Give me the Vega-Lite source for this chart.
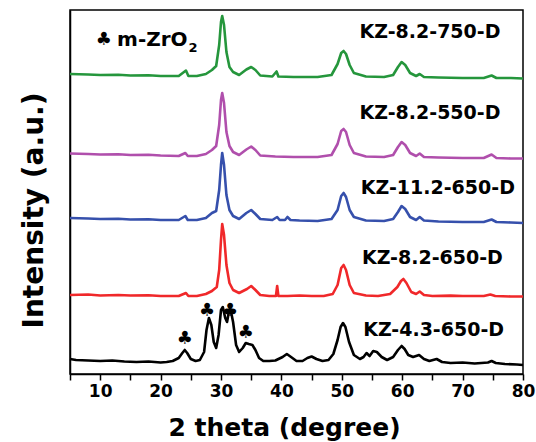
{
  "$schema": "https://vega.github.io/schema/vega-lite/v6.json",
  "autosize": "none",
  "width": 453,
  "height": 364,
  "padding": {"left": 70, "top": 10, "right": 13, "bottom": 68},
  "background": "white",
  "config": {
    "view": {"stroke": "black", "strokeWidth": 1.5},
    "font": "DejaVu Sans"
  },
  "datasets": {
    "xrd": [
      {"s":"KZ-4.3-650-D","t":5,"i":15},{"s":"KZ-4.3-650-D","t":6,"i":14},{"s":"KZ-4.3-650-D","t":8,"i":13.5},{"s":"KZ-4.3-650-D","t":10,"i":13},{"s":"KZ-4.3-650-D","t":12,"i":13.5},{"s":"KZ-4.3-650-D","t":14,"i":12.5},{"s":"KZ-4.3-650-D","t":16,"i":12},{"s":"KZ-4.3-650-D","t":18,"i":12.5},{"s":"KZ-4.3-650-D","t":20,"i":11.5},{"s":"KZ-4.3-650-D","t":21,"i":12},{"s":"KZ-4.3-650-D","t":22,"i":13},{"s":"KZ-4.3-650-D","t":23,"i":16},{"s":"KZ-4.3-650-D","t":23.6,"i":21},{"s":"KZ-4.3-650-D","t":24,"i":24},{"s":"KZ-4.3-650-D","t":24.4,"i":21},{"s":"KZ-4.3-650-D","t":25,"i":15},{"s":"KZ-4.3-650-D","t":25.8,"i":13},{"s":"KZ-4.3-650-D","t":26.5,"i":14},{"s":"KZ-4.3-650-D","t":27.2,"i":22},{"s":"KZ-4.3-650-D","t":27.6,"i":44},{"s":"KZ-4.3-650-D","t":28,"i":56},{"s":"KZ-4.3-650-D","t":28.4,"i":49},{"s":"KZ-4.3-650-D","t":28.8,"i":32},{"s":"KZ-4.3-650-D","t":29.2,"i":26},{"s":"KZ-4.3-650-D","t":29.6,"i":39},{"s":"KZ-4.3-650-D","t":30,"i":64},{"s":"KZ-4.3-650-D","t":30.3,"i":67},{"s":"KZ-4.3-650-D","t":30.7,"i":56},{"s":"KZ-4.3-650-D","t":31,"i":52},{"s":"KZ-4.3-650-D","t":31.3,"i":62},{"s":"KZ-4.3-650-D","t":31.6,"i":64},{"s":"KZ-4.3-650-D","t":32,"i":52},{"s":"KZ-4.3-650-D","t":32.5,"i":29},{"s":"KZ-4.3-650-D","t":33,"i":22},{"s":"KZ-4.3-650-D","t":33.6,"i":26},{"s":"KZ-4.3-650-D","t":34.1,"i":31},{"s":"KZ-4.3-650-D","t":34.6,"i":30},{"s":"KZ-4.3-650-D","t":35.2,"i":29},{"s":"KZ-4.3-650-D","t":35.7,"i":24},{"s":"KZ-4.3-650-D","t":36.3,"i":16},{"s":"KZ-4.3-650-D","t":37,"i":13},{"s":"KZ-4.3-650-D","t":38,"i":13},{"s":"KZ-4.3-650-D","t":39,"i":13.5},{"s":"KZ-4.3-650-D","t":40.2,"i":17},{"s":"KZ-4.3-650-D","t":40.9,"i":20},{"s":"KZ-4.3-650-D","t":41.6,"i":17},{"s":"KZ-4.3-650-D","t":42.5,"i":13},{"s":"KZ-4.3-650-D","t":43.5,"i":13},{"s":"KZ-4.3-650-D","t":44.3,"i":16},{"s":"KZ-4.3-650-D","t":45,"i":17.5},{"s":"KZ-4.3-650-D","t":45.8,"i":15},{"s":"KZ-4.3-650-D","t":46.8,"i":13},{"s":"KZ-4.3-650-D","t":47.8,"i":14},{"s":"KZ-4.3-650-D","t":48.6,"i":20},{"s":"KZ-4.3-650-D","t":49.3,"i":34},{"s":"KZ-4.3-650-D","t":49.8,"i":47},{"s":"KZ-4.3-650-D","t":50.2,"i":51},{"s":"KZ-4.3-650-D","t":50.6,"i":47},{"s":"KZ-4.3-650-D","t":51.2,"i":32},{"s":"KZ-4.3-650-D","t":52,"i":19},{"s":"KZ-4.3-650-D","t":53,"i":15},{"s":"KZ-4.3-650-D","t":53.6,"i":17},{"s":"KZ-4.3-650-D","t":54.1,"i":21},{"s":"KZ-4.3-650-D","t":54.6,"i":18},{"s":"KZ-4.3-650-D","t":55.2,"i":23},{"s":"KZ-4.3-650-D","t":55.8,"i":22},{"s":"KZ-4.3-650-D","t":56.6,"i":17},{"s":"KZ-4.3-650-D","t":57.5,"i":14},{"s":"KZ-4.3-650-D","t":58.5,"i":17},{"s":"KZ-4.3-650-D","t":59.3,"i":24},{"s":"KZ-4.3-650-D","t":59.9,"i":28},{"s":"KZ-4.3-650-D","t":60.4,"i":25},{"s":"KZ-4.3-650-D","t":61,"i":19},{"s":"KZ-4.3-650-D","t":61.8,"i":17},{"s":"KZ-4.3-650-D","t":62.8,"i":19},{"s":"KZ-4.3-650-D","t":63.6,"i":15},{"s":"KZ-4.3-650-D","t":64.5,"i":13},{"s":"KZ-4.3-650-D","t":65.7,"i":15},{"s":"KZ-4.3-650-D","t":66.6,"i":12},{"s":"KZ-4.3-650-D","t":68,"i":11},{"s":"KZ-4.3-650-D","t":70,"i":11.5},{"s":"KZ-4.3-650-D","t":72,"i":10.5},{"s":"KZ-4.3-650-D","t":74.2,"i":11.5},{"s":"KZ-4.3-650-D","t":74.8,"i":13},{"s":"KZ-4.3-650-D","t":75.5,"i":11},{"s":"KZ-4.3-650-D","t":77,"i":10},{"s":"KZ-4.3-650-D","t":79,"i":9.5},{"s":"KZ-4.3-650-D","t":80,"i":9},

      {"s":"KZ-8.2-650-D","t":5,"i":79},{"s":"KZ-8.2-650-D","t":8,"i":79.5},{"s":"KZ-8.2-650-D","t":10,"i":78.5},{"s":"KZ-8.2-650-D","t":13,"i":79},{"s":"KZ-8.2-650-D","t":15,"i":78.5},{"s":"KZ-8.2-650-D","t":18,"i":78.8},{"s":"KZ-8.2-650-D","t":20,"i":78},{"s":"KZ-8.2-650-D","t":23,"i":78},{"s":"KZ-8.2-650-D","t":24.2,"i":81},{"s":"KZ-8.2-650-D","t":24.6,"i":78},{"s":"KZ-8.2-650-D","t":26,"i":78},{"s":"KZ-8.2-650-D","t":27.5,"i":80},{"s":"KZ-8.2-650-D","t":28.5,"i":83},{"s":"KZ-8.2-650-D","t":29.3,"i":87},{"s":"KZ-8.2-650-D","t":29.7,"i":104},{"s":"KZ-8.2-650-D","t":30,"i":134},{"s":"KZ-8.2-650-D","t":30.2,"i":150},{"s":"KZ-8.2-650-D","t":30.5,"i":139},{"s":"KZ-8.2-650-D","t":30.9,"i":109},{"s":"KZ-8.2-650-D","t":31.4,"i":91},{"s":"KZ-8.2-650-D","t":32,"i":84},{"s":"KZ-8.2-650-D","t":33,"i":81},{"s":"KZ-8.2-650-D","t":34.3,"i":85},{"s":"KZ-8.2-650-D","t":35,"i":88},{"s":"KZ-8.2-650-D","t":35.7,"i":84},{"s":"KZ-8.2-650-D","t":36.5,"i":79},{"s":"KZ-8.2-650-D","t":38,"i":78},{"s":"KZ-8.2-650-D","t":39.1,"i":78},{"s":"KZ-8.2-650-D","t":39.3,"i":88},{"s":"KZ-8.2-650-D","t":39.5,"i":78},{"s":"KZ-8.2-650-D","t":41,"i":78},{"s":"KZ-8.2-650-D","t":43,"i":78.5},{"s":"KZ-8.2-650-D","t":45,"i":78},{"s":"KZ-8.2-650-D","t":47,"i":78},{"s":"KZ-8.2-650-D","t":48.5,"i":80},{"s":"KZ-8.2-650-D","t":49.3,"i":89},{"s":"KZ-8.2-650-D","t":49.9,"i":106},{"s":"KZ-8.2-650-D","t":50.3,"i":109},{"s":"KZ-8.2-650-D","t":50.7,"i":104},{"s":"KZ-8.2-650-D","t":51.3,"i":89},{"s":"KZ-8.2-650-D","t":52,"i":81},{"s":"KZ-8.2-650-D","t":54,"i":78.5},{"s":"KZ-8.2-650-D","t":56,"i":78},{"s":"KZ-8.2-650-D","t":58,"i":80},{"s":"KZ-8.2-650-D","t":59.2,"i":87},{"s":"KZ-8.2-650-D","t":59.8,"i":93},{"s":"KZ-8.2-650-D","t":60.2,"i":95},{"s":"KZ-8.2-650-D","t":60.7,"i":91},{"s":"KZ-8.2-650-D","t":61.5,"i":82},{"s":"KZ-8.2-650-D","t":62.3,"i":80},{"s":"KZ-8.2-650-D","t":62.9,"i":82.5},{"s":"KZ-8.2-650-D","t":63.6,"i":79},{"s":"KZ-8.2-650-D","t":65,"i":78},{"s":"KZ-8.2-650-D","t":68,"i":78.4},{"s":"KZ-8.2-650-D","t":70,"i":78},{"s":"KZ-8.2-650-D","t":73.5,"i":78},{"s":"KZ-8.2-650-D","t":74.6,"i":79.5},{"s":"KZ-8.2-650-D","t":75.4,"i":78},{"s":"KZ-8.2-650-D","t":78,"i":77.5},{"s":"KZ-8.2-650-D","t":80,"i":77.5},

      {"s":"KZ-11.2-650-D","t":5,"i":156},{"s":"KZ-11.2-650-D","t":8,"i":155.5},{"s":"KZ-11.2-650-D","t":10,"i":155},{"s":"KZ-11.2-650-D","t":13,"i":155.3},{"s":"KZ-11.2-650-D","t":15,"i":154.5},{"s":"KZ-11.2-650-D","t":18,"i":154.8},{"s":"KZ-11.2-650-D","t":20,"i":154},{"s":"KZ-11.2-650-D","t":23,"i":154},{"s":"KZ-11.2-650-D","t":24.1,"i":158},{"s":"KZ-11.2-650-D","t":24.5,"i":154},{"s":"KZ-11.2-650-D","t":26,"i":154},{"s":"KZ-11.2-650-D","t":27.5,"i":156},{"s":"KZ-11.2-650-D","t":28.5,"i":161},{"s":"KZ-11.2-650-D","t":29.2,"i":163},{"s":"KZ-11.2-650-D","t":29.7,"i":184},{"s":"KZ-11.2-650-D","t":30,"i":209},{"s":"KZ-11.2-650-D","t":30.2,"i":221},{"s":"KZ-11.2-650-D","t":30.5,"i":209},{"s":"KZ-11.2-650-D","t":30.9,"i":179},{"s":"KZ-11.2-650-D","t":31.4,"i":164},{"s":"KZ-11.2-650-D","t":32,"i":158},{"s":"KZ-11.2-650-D","t":33,"i":155},{"s":"KZ-11.2-650-D","t":34.2,"i":161},{"s":"KZ-11.2-650-D","t":35,"i":164},{"s":"KZ-11.2-650-D","t":35.7,"i":160},{"s":"KZ-11.2-650-D","t":36.5,"i":155},{"s":"KZ-11.2-650-D","t":38.5,"i":154},{"s":"KZ-11.2-650-D","t":39.3,"i":157},{"s":"KZ-11.2-650-D","t":39.7,"i":154},{"s":"KZ-11.2-650-D","t":40.6,"i":154},{"s":"KZ-11.2-650-D","t":41,"i":157},{"s":"KZ-11.2-650-D","t":41.5,"i":154},{"s":"KZ-11.2-650-D","t":43,"i":153.5},{"s":"KZ-11.2-650-D","t":46,"i":153},{"s":"KZ-11.2-650-D","t":48.3,"i":155},{"s":"KZ-11.2-650-D","t":49.3,"i":164},{"s":"KZ-11.2-650-D","t":49.9,"i":178},{"s":"KZ-11.2-650-D","t":50.3,"i":181},{"s":"KZ-11.2-650-D","t":50.7,"i":177},{"s":"KZ-11.2-650-D","t":51.3,"i":164},{"s":"KZ-11.2-650-D","t":52,"i":157},{"s":"KZ-11.2-650-D","t":54,"i":153.5},{"s":"KZ-11.2-650-D","t":57,"i":153},{"s":"KZ-11.2-650-D","t":58.5,"i":155},{"s":"KZ-11.2-650-D","t":59.3,"i":162},{"s":"KZ-11.2-650-D","t":59.9,"i":168},{"s":"KZ-11.2-650-D","t":60.5,"i":165},{"s":"KZ-11.2-650-D","t":61.3,"i":157},{"s":"KZ-11.2-650-D","t":62.3,"i":154},{"s":"KZ-11.2-650-D","t":62.9,"i":157},{"s":"KZ-11.2-650-D","t":63.6,"i":153.5},{"s":"KZ-11.2-650-D","t":66,"i":152.5},{"s":"KZ-11.2-650-D","t":70,"i":152},{"s":"KZ-11.2-650-D","t":73.5,"i":152},{"s":"KZ-11.2-650-D","t":74.8,"i":154.5},{"s":"KZ-11.2-650-D","t":75.6,"i":152},{"s":"KZ-11.2-650-D","t":78,"i":151.5},{"s":"KZ-11.2-650-D","t":80,"i":151},

      {"s":"KZ-8.2-550-D","t":5,"i":220.5},{"s":"KZ-8.2-550-D","t":8,"i":220},{"s":"KZ-8.2-550-D","t":10,"i":219.5},{"s":"KZ-8.2-550-D","t":13,"i":219.8},{"s":"KZ-8.2-550-D","t":15,"i":219},{"s":"KZ-8.2-550-D","t":18,"i":219.2},{"s":"KZ-8.2-550-D","t":20,"i":218.5},{"s":"KZ-8.2-550-D","t":23,"i":218},{"s":"KZ-8.2-550-D","t":24.1,"i":221},{"s":"KZ-8.2-550-D","t":24.5,"i":218},{"s":"KZ-8.2-550-D","t":26,"i":218},{"s":"KZ-8.2-550-D","t":27.5,"i":220},{"s":"KZ-8.2-550-D","t":28.5,"i":224},{"s":"KZ-8.2-550-D","t":29.2,"i":228},{"s":"KZ-8.2-550-D","t":29.7,"i":249},{"s":"KZ-8.2-550-D","t":30,"i":274},{"s":"KZ-8.2-550-D","t":30.2,"i":281},{"s":"KZ-8.2-550-D","t":30.5,"i":271},{"s":"KZ-8.2-550-D","t":30.9,"i":242},{"s":"KZ-8.2-550-D","t":31.4,"i":228},{"s":"KZ-8.2-550-D","t":32,"i":222},{"s":"KZ-8.2-550-D","t":33,"i":219},{"s":"KZ-8.2-550-D","t":34.2,"i":224.5},{"s":"KZ-8.2-550-D","t":35,"i":227.5},{"s":"KZ-8.2-550-D","t":35.7,"i":224},{"s":"KZ-8.2-550-D","t":36.5,"i":218.5},{"s":"KZ-8.2-550-D","t":39,"i":217.5},{"s":"KZ-8.2-550-D","t":42,"i":217},{"s":"KZ-8.2-550-D","t":46,"i":217},{"s":"KZ-8.2-550-D","t":48.3,"i":219},{"s":"KZ-8.2-550-D","t":49.3,"i":230},{"s":"KZ-8.2-550-D","t":49.9,"i":243},{"s":"KZ-8.2-550-D","t":50.3,"i":245},{"s":"KZ-8.2-550-D","t":50.7,"i":242},{"s":"KZ-8.2-550-D","t":51.3,"i":229},{"s":"KZ-8.2-550-D","t":52,"i":221},{"s":"KZ-8.2-550-D","t":54,"i":217.5},{"s":"KZ-8.2-550-D","t":57,"i":217},{"s":"KZ-8.2-550-D","t":58.5,"i":219},{"s":"KZ-8.2-550-D","t":59.3,"i":227},{"s":"KZ-8.2-550-D","t":59.9,"i":232},{"s":"KZ-8.2-550-D","t":60.5,"i":229},{"s":"KZ-8.2-550-D","t":61.3,"i":221},{"s":"KZ-8.2-550-D","t":62.3,"i":218},{"s":"KZ-8.2-550-D","t":62.9,"i":220.5},{"s":"KZ-8.2-550-D","t":63.6,"i":217},{"s":"KZ-8.2-550-D","t":66,"i":216.5},{"s":"KZ-8.2-550-D","t":70,"i":216},{"s":"KZ-8.2-550-D","t":73.5,"i":216},{"s":"KZ-8.2-550-D","t":74.8,"i":219.5},{"s":"KZ-8.2-550-D","t":75.6,"i":216},{"s":"KZ-8.2-550-D","t":78,"i":215.5},{"s":"KZ-8.2-550-D","t":80,"i":215.5},

      {"s":"KZ-8.2-750-D","t":5,"i":300},{"s":"KZ-8.2-750-D","t":8,"i":299.5},{"s":"KZ-8.2-750-D","t":10,"i":299},{"s":"KZ-8.2-750-D","t":13,"i":299.3},{"s":"KZ-8.2-750-D","t":15,"i":298.5},{"s":"KZ-8.2-750-D","t":18,"i":298.8},{"s":"KZ-8.2-750-D","t":20,"i":298},{"s":"KZ-8.2-750-D","t":23,"i":298},{"s":"KZ-8.2-750-D","t":24.2,"i":303.5},{"s":"KZ-8.2-750-D","t":24.6,"i":298},{"s":"KZ-8.2-750-D","t":26,"i":298},{"s":"KZ-8.2-750-D","t":27.5,"i":300},{"s":"KZ-8.2-750-D","t":28.5,"i":304},{"s":"KZ-8.2-750-D","t":29.2,"i":308},{"s":"KZ-8.2-750-D","t":29.7,"i":329},{"s":"KZ-8.2-750-D","t":30,"i":352},{"s":"KZ-8.2-750-D","t":30.2,"i":358},{"s":"KZ-8.2-750-D","t":30.5,"i":349},{"s":"KZ-8.2-750-D","t":30.9,"i":322},{"s":"KZ-8.2-750-D","t":31.4,"i":307},{"s":"KZ-8.2-750-D","t":32,"i":302},{"s":"KZ-8.2-750-D","t":33,"i":299},{"s":"KZ-8.2-750-D","t":34.2,"i":304.5},{"s":"KZ-8.2-750-D","t":35,"i":307},{"s":"KZ-8.2-750-D","t":35.7,"i":304},{"s":"KZ-8.2-750-D","t":36.5,"i":298.5},{"s":"KZ-8.2-750-D","t":38.5,"i":297.5},{"s":"KZ-8.2-750-D","t":39.2,"i":302.5},{"s":"KZ-8.2-750-D","t":39.5,"i":297.5},{"s":"KZ-8.2-750-D","t":42,"i":297},{"s":"KZ-8.2-750-D","t":46,"i":297},{"s":"KZ-8.2-750-D","t":48.3,"i":299},{"s":"KZ-8.2-750-D","t":49.3,"i":310},{"s":"KZ-8.2-750-D","t":49.9,"i":321},{"s":"KZ-8.2-750-D","t":50.3,"i":323},{"s":"KZ-8.2-750-D","t":50.7,"i":320},{"s":"KZ-8.2-750-D","t":51.3,"i":309},{"s":"KZ-8.2-750-D","t":52,"i":301},{"s":"KZ-8.2-750-D","t":54,"i":297.5},{"s":"KZ-8.2-750-D","t":57,"i":297},{"s":"KZ-8.2-750-D","t":58.5,"i":299},{"s":"KZ-8.2-750-D","t":59.3,"i":307},{"s":"KZ-8.2-750-D","t":59.9,"i":312},{"s":"KZ-8.2-750-D","t":60.5,"i":309},{"s":"KZ-8.2-750-D","t":61.3,"i":301},{"s":"KZ-8.2-750-D","t":62.3,"i":298},{"s":"KZ-8.2-750-D","t":62.9,"i":300},{"s":"KZ-8.2-750-D","t":63.6,"i":297},{"s":"KZ-8.2-750-D","t":66,"i":296.5},{"s":"KZ-8.2-750-D","t":70,"i":296},{"s":"KZ-8.2-750-D","t":73.5,"i":296},{"s":"KZ-8.2-750-D","t":74.8,"i":298.5},{"s":"KZ-8.2-750-D","t":75.6,"i":296},{"s":"KZ-8.2-750-D","t":78,"i":296},{"s":"KZ-8.2-750-D","t":80,"i":295.5}
    ],
    "labels": [
      {"t":64.6,"i":342,"text":"KZ-8.2-750-D"},
      {"t":64.6,"i":261,"text":"KZ-8.2-550-D"},
      {"t":65.9,"i":186,"text":"KZ-11.2-650-D"},
      {"t":65.0,"i":116,"text":"KZ-8.2-650-D"},
      {"t":65.2,"i":44,"text":"KZ-4.3-650-D"}
    ],
    "stars": [
      {"t":24.0,"i":35},{"t":27.7,"i":63},{"t":31.5,"i":63},{"t":34.1,"i":41},{"t":10.6,"i":334}
    ],
    "legendText": [{"t":12.8,"i":334,"text":"m-ZrO"}],
    "legendSub": [{"t":24.6,"i":326,"text":"2"}]
  },
  "encoding": {
    "x": {
      "field": "t", "type": "quantitative",
      "scale": {"domain": [5, 80], "nice": false, "zero": false},
      "axis": {
        "title": "2 theta (degree)",
        "values": [5,10,15,20,25,30,35,40,45,50,55,60,65,70,75,80],
        "labelExpr": "datum.value % 10 === 0 ? datum.label : ''",
        "grid": false,
        "domainColor": "black", "domainWidth": 1.5,
        "tickColor": "black", "tickWidth": 1.5, "tickSize": 6,
        "labelFont": "DejaVu Sans", "labelFontWeight": "bold", "labelFontSize": 17, "labelColor": "black",
        "labelPadding": 3, "labelFlush": false, "labelOverlap": false,
        "titleFont": "DejaVu Sans", "titleFontWeight": "bold", "titleFontSize": 25, "titleColor": "black",
        "titleX": 214, "titleY": 53, "titleBaseline": "middle"
      }
    },
    "y": {
      "field": "i", "type": "quantitative",
      "scale": {"domain": [0, 364], "nice": false, "zero": false},
      "axis": {
        "title": "Intensity (a.u.)",
        "labels": false, "ticks": false, "grid": false,
        "domainColor": "black", "domainWidth": 1.5,
        "titleFont": "DejaVu Sans", "titleFontWeight": "bold", "titleFontSize": 28, "titleColor": "black",
        "titleX": -36, "titleY": 200, "titleBaseline": "middle", "titleAngle": -90
      }
    }
  },
  "layer": [
    {
      "data": {"name": "xrd"},
      "mark": {"type": "line", "strokeWidth": 2.6, "strokeJoin": "round"},
      "encoding": {
        "color": {
          "field": "s", "type": "nominal",
          "scale": {
            "domain": ["KZ-4.3-650-D","KZ-8.2-650-D","KZ-11.2-650-D","KZ-8.2-550-D","KZ-8.2-750-D"],
            "range": ["#000000","#f0282a","#3650ac","#b04fac","#25963c"]
          },
          "legend": null
        }
      }
    },
    {
      "data": {"name": "labels"},
      "mark": {"type": "text", "font": "DejaVu Sans", "fontWeight": "bold", "fontSize": 19, "color": "black", "align": "center", "baseline": "middle"},
      "encoding": {"text": {"field": "text"}}
    },
    {
      "data": {"name": "stars"},
      "mark": {"type": "text", "font": "DejaVu Sans", "fontSize": 18, "color": "black", "align": "center", "baseline": "middle"},
      "encoding": {"text": {"value": "♣"}}
    },
    {
      "data": {"name": "legendText"},
      "mark": {"type": "text", "font": "DejaVu Sans", "fontWeight": "bold", "fontSize": 20, "color": "black", "align": "left", "baseline": "middle"},
      "encoding": {"text": {"field": "text"}}
    },
    {
      "data": {"name": "legendSub"},
      "mark": {"type": "text", "font": "DejaVu Sans", "fontWeight": "bold", "fontSize": 13, "color": "black", "align": "left", "baseline": "middle"},
      "encoding": {"text": {"field": "text"}}
    }
  ]
}
